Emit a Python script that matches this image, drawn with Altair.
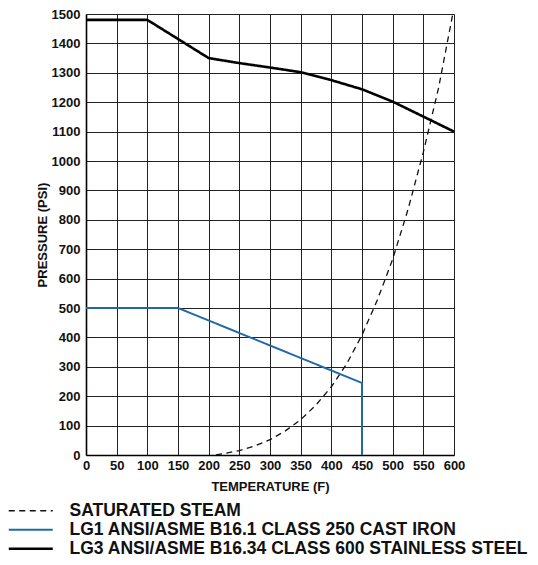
import altair as alt
import pandas as pd

# Series names (legend order)
series_names = [
    "SATURATED STEAM",
    "LG1 ANSI/ASME B16.1 CLASS 250 CAST IRON",
    "LG3 ANSI/ASME B16.34 CLASS 600 STAINLESS STEEL",
]
series_colors = ["#111111", "#2268a8", "#000000"]
series_dash = [[6, 4.5], [1, 0], [1, 0]]
series_width = [1.3, 2.6, 3.0]

# Saturated steam curve
steam_temp = [212, 225, 250, 275, 300, 325, 350, 375, 400, 425, 450, 475, 500, 525, 550, 575, 598]
steam_psi = [0, 5, 15, 31, 52, 82, 120, 170, 232, 310, 408, 527, 666, 835, 1030, 1250, 1500]

# LG1 cast iron
lg1_temp = [0, 150, 450, 450]
lg1_psi = [500, 500, 245, 0]

# LG3 stainless steel
lg3_temp = [0, 100, 200, 250, 300, 350, 400, 450, 500, 550, 600]
lg3_psi = [1480, 1480, 1350, 1333, 1318, 1302, 1275, 1244, 1202, 1151, 1100]

x_ticks = list(range(0, 601, 50))
y_ticks = list(range(0, 1501, 100))

rows = []
for name, temps, psis in [
    (series_names[0], steam_temp, steam_psi),
    (series_names[1], lg1_temp, lg1_psi),
    (series_names[2], lg3_temp, lg3_psi),
]:
    for i, (t, p) in enumerate(zip(temps, psis)):
        rows.append({"series": name, "temp": t, "psi": p, "idx": i})
df = pd.DataFrame(rows)

FONT = "Liberation Sans"

legend = alt.Legend(
    title=None,
    orient="none",
    legendX=-64,
    legendY=488,
    symbolType="M-4,0H4",
    symbolSize=121,
    labelFont=FONT,
    labelFontSize=17.5,
    labelFontWeight="bold",
    labelColor="#111111",
    labelLimit=0,
    labelOffset=30,
    rowPadding=0,
)

chart = (
    alt.Chart(df)
    .mark_line(clip=True)
    .encode(
        x=alt.X(
            "temp:Q",
            scale=alt.Scale(domain=[0, 600], nice=False, zero=False),
            axis=alt.Axis(
                values=x_ticks,
                title="TEMPERATURE (F)",
                ticks=False,
                labelPadding=4,
                titlePadding=8,
                labelOverlap=False,
                labelFlush=False,
                format="d",
            ),
        ),
        y=alt.Y(
            "psi:Q",
            scale=alt.Scale(domain=[0, 1500], nice=False),
            axis=alt.Axis(
                values=y_ticks,
                title="PRESSURE (PSI)",
                ticks=False,
                labelPadding=6,
                titlePadding=2,
                labelOverlap=False,
                labelFlush=False,
                format="d",
            ),
        ),
        color=alt.Color(
            "series:N",
            scale=alt.Scale(domain=series_names, range=series_colors),
            legend=legend,
        ),
        strokeDash=alt.StrokeDash(
            "series:N",
            scale=alt.Scale(domain=series_names, range=series_dash),
            legend=legend,
        ),
        strokeWidth=alt.StrokeWidth(
            "series:N",
            scale=alt.Scale(domain=series_names, range=series_width),
            legend=legend,
        ),
        order="idx:Q",
        detail="series:N",
    )
    .properties(
        width=368,
        height=441,
        autosize=alt.AutoSizeParams(type="none"),
        padding={"left": 78, "top": 6, "right": 76, "bottom": 102},
    )
    .configure_view(stroke=None)
    .configure_axis(
        grid=True,
        gridColor="#222222",
        gridWidth=1,
        gridOpacity=1,
        domainColor="#000000",
        domainWidth=1.6,
        labelFont=FONT,
        labelFontSize=13,
        labelFontWeight="bold",
        labelColor="#111111",
        titleFont=FONT,
        titleFontSize=13,
        titleFontWeight="bold",
        titleColor="#111111",
    )
)

chart.save("out.html", embed_options={"renderer": "svg", "actions": False})
